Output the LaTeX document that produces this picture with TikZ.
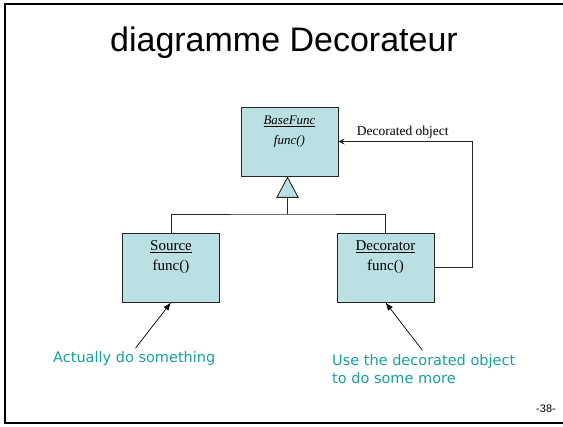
\documentclass[tikz,border=0pt]{standalone}
\usepackage[rgb]{xcolor}
\usepackage{fontspec}
\usepackage{tikz}
\usetikzlibrary{shapes.geometric,arrows.meta}
\setmainfont{Liberation Serif}
\newfontfamily\titlefont{Liberation Sans}
\newfontfamily\notefont{DejaVu Sans}
\definecolor{boxfill}{RGB}{187,224,227}
\definecolor{notecol}{RGB}{24,158,158}

\tikzset{
  umlbox/.style={draw=black!85, fill=boxfill, line width=0.9pt, minimum width=97pt, minimum height=69pt, inner sep=0pt},
  boxtext/.style={anchor=north, align=center, inner sep=0pt, font=\fontsize{15}{20}\selectfont},
  notetext/.style={text=notecol, inner sep=2pt, align=left, font=\fontsize{14.5}{18}\notefont},
  notearrow/.style={-{Latex[length=8pt,width=6pt]}, line width=0.7pt, shorten <=2pt},
  link/.style={line width=0.9pt, draw=black!85}
}

\begin{document}
\begin{tikzpicture}[x=1pt, y=-1pt]

\useasboundingbox (0,0) rectangle (563,427);

% slide frame, open on the right
\draw[line width=2.6pt] (563,4) -- (5,4) -- (5,423) -- (563,423);

% title
\node[anchor=base, inner sep=0pt, font=\fontsize{34}{40}\titlefont] (title) at (284,52) {diagramme Decorateur};

%% the three classes
\node[umlbox] (base) at (289.5,141.5) {};
\node[boxtext, font=\fontsize{13}{20}\selectfont\itshape] (basetxt) at ([yshift=-9pt]base.north) {\underline{BaseFunc}\\func()};

\node[umlbox] (src) at (171,267.5) {};
\node[boxtext] (srctxt) at ([yshift=-8pt]src.north) {\underline{Source}\\func()};

\node[umlbox] (dec) at (385.5,267.5) {};
\node[boxtext] (dectxt) at ([yshift=-8pt]dec.north) {\underline{Decorator}\\func()};

%% inheritance
\node[isosceles triangle, isosceles triangle apex angle=56, shape border rotate=90,
  draw=black!85, fill=boxfill, line width=0.9pt, minimum height=20pt, inner sep=0pt,
  anchor=apex] (tri) at ([xshift=-2pt]base.south) {};
\coordinate (fork) at (tri.south |- 0,214);

\draw[link] (tri.south) -- (fork);
\draw[link] (src.north) |- (fork) -| (dec.north);

%% decorated object link
\draw[link, -{Stealth[length=6pt,width=6pt]}] (dec.east) -- ++(38,0) |- (base.east)
  node[pos=0.76, above, inner sep=3pt, font=\fontsize{13.5}{16}\selectfont] (declabel) {Decorated object};

%% notes
\node[notetext, anchor=base west] (act) at (51,363) {Actually do something};
\node[notetext, anchor=north west] (use) at (330,352) {Use the decorated object\\to do some more};

\draw[notearrow] (act.north) -- (src.south);
\draw[notearrow] (use.north) -- (dec.south);

% page number
\node[anchor=base east, inner sep=0pt, font=\fontsize{11}{12}\titlefont] (pagenum) at (556,413) {-38-};

\end{tikzpicture}
\end{document}
